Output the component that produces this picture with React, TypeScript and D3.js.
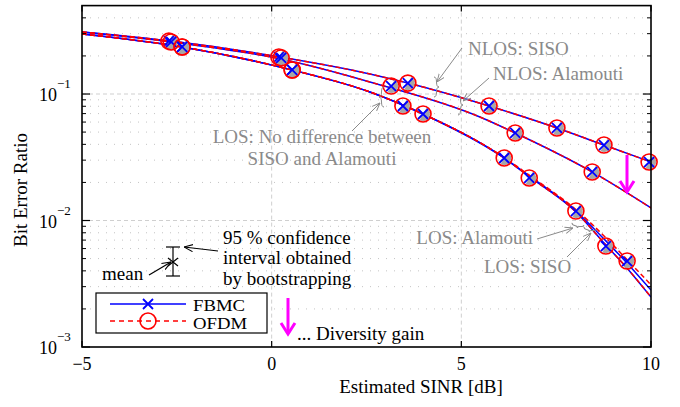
import React from 'react';
import * as d3 from 'd3';

// fitted curves (estimated SINR in dB, bit error ratio)
const nlosSisoLineX = [-5, -2.65, 0.22, 2.59, 3.59, 5.73, 7.52, 8.76, 10];
const nlosSisoLineBer = [0.309, 0.262, 0.196, 0.144, 0.122, 0.0804, 0.0539, 0.0395, 0.029];
const nlosAlaLineX = [-5, -2.65, 0.25, 2.59, 5.49, 6.42, 8.45, 10];
const nlosAlaLineBer = [0.309, 0.258, 0.189, 0.1245, 0.0658, 0.0492, 0.0242, 0.01256];
const losLineX = [-5, -2.36, 0.54, 2.59, 3.99, 6.13, 6.79, 8.02, 8.81, 9.37, 10];
const losSisoLineBer = [0.298, 0.2355, 0.1549, 0.1038, 0.0695, 0.0312, 0.0225, 0.0119, 0.0069, 0.0046, 0.00282];
const losAlaLineBer = [0.298, 0.2355, 0.1549, 0.1038, 0.0695, 0.0312, 0.0222, 0.0117, 0.0064, 0.0042, 0.00248];
const ofdmLosSisoLineBer = [0.298, 0.2355, 0.1549, 0.1038, 0.0695, 0.0315, 0.0228, 0.0122, 0.0073, 0.0049, 0.0031];

// simulated points
const nlosSisoMarkX = [-2.71, 0.19, 3.59, 5.73, 7.52, 8.76, 9.95];
const nlosSisoMarkBer = [0.262, 0.196, 0.122, 0.0804, 0.0539, 0.0395, 0.029];
const nlosAlaMarkX = [-2.65, 0.25, 3.15, 6.42, 8.45];
const nlosAlaMarkBer = [0.258, 0.193, 0.1156, 0.0492, 0.0242];
const losSisoMarkX = [-2.36, 0.54, 3.46, 6.13, 8.02, 9.37];
const losSisoMarkBer = [0.2355, 0.1549, 0.0804, 0.0312, 0.01188, 0.00478];
const losAlaMarkX = [-2.36, 0.54, 3.99, 6.79, 8.81];
const losAlaMarkBer = [0.2355, 0.1549, 0.0695, 0.0217, 0.00628];

const xTicks = [-5, 0, 5, 10];
const yMajor = [1e-3, 1e-2, 1e-1];
const yExp = ['−3', '−2', '−1'];

const W = 680, H = 407;
const left = 82, right = 651, top = 5.6, bottom = 347;
const font = "'Liberation Serif', 'Times New Roman', Times, serif";
const gray = '#8a8a8a';
const fs = 19;

function brace(cx: number, cy: number, L: number, d: number, rot: number) {
	const p = `M${-L / 2},0 Q${-L / 2},${d / 2} ${-L / 4},${d / 2} Q0,${d / 2} 0,${d} Q0,${d / 2} ${L / 4},${d / 2} Q${L / 2},${d / 2} ${L / 2},0`;
	return <path d={p} transform={`translate(${cx},${cy}) rotate(${rot})`} fill="none" stroke={gray} strokeWidth={1} />;
}

export default function App() {
	const x = d3.scaleLinear().domain([-5, 10]).range([left, right]);
	const y = d3.scaleLog().domain([1e-3, 0.5]).range([bottom, top]);

	const line = (xs: number[], bs: number[]) =>
		d3.line<number>().x((d, i) => x(xs[i])).y((d) => y(d)).curve(d3.curveMonotoneX)(bs) || '';

	const minor: number[] = [];
	[1e-3, 1e-2, 1e-1].forEach((dec) => {
		for (let k = 2; k <= 9; k++) {
			const v = dec * k;
			if (v < 0.5) minor.push(v);
		}
	});

	const blueLines = [
		line(nlosSisoLineX, nlosSisoLineBer),
		line(nlosAlaLineX, nlosAlaLineBer),
		line(losLineX, losSisoLineBer),
		line(losLineX, losAlaLineBer),
	];
	const redLines = [
		line(nlosSisoLineX, nlosSisoLineBer),
		line(nlosAlaLineX, nlosAlaLineBer),
		line(losLineX, ofdmLosSisoLineBer),
		line(losLineX, losAlaLineBer),
	];

	const marks: [number, number][] = [];
	[[nlosSisoMarkX, nlosSisoMarkBer], [nlosAlaMarkX, nlosAlaMarkBer], [losSisoMarkX, losSisoMarkBer], [losAlaMarkX, losAlaMarkBer]].forEach(([xs, bs]) => {
		xs.forEach((v, i) => marks.push([x(v), y(bs[i])]));
	});

	const X = (cx: number, cy: number, s: number, key?: any) => (
		<path key={key} d={`M${cx - s},${cy - s}L${cx + s},${cy + s}M${cx - s},${cy + s}L${cx + s},${cy - s}`} stroke="#0000ff" strokeWidth={1.8} fill="none" />
	);

	return (
		<svg width={W} height={H} style={{ position: 'absolute', left: 0, top: 0, background: '#fff', fontFamily: font }}>
			<defs>
				<marker id="ag" viewBox="0 0 10 10" refX="10" refY="5" markerWidth="8" markerHeight="8" orient="auto" markerUnits="userSpaceOnUse">
					<path d="M0,1 L10,5 L0,9" fill="none" stroke={gray} strokeWidth={1.2} />
				</marker>
				<marker id="ak" viewBox="0 0 10 10" refX="10" refY="5" markerWidth="9" markerHeight="9" orient="auto" markerUnits="userSpaceOnUse">
					<path d="M0,1 L10,5 L0,9" fill="none" stroke="#000" strokeWidth={1.2} />
				</marker>
				<clipPath id="plot"><rect x={left} y={top} width={right - left} height={bottom - top} /></clipPath>
			</defs>

			{/* grid */}
			{minor.map((v) => (
				<line key={'mg' + v} x1={left} x2={right} y1={y(v)} y2={y(v)} stroke="#c4c4c4" strokeWidth={1} strokeDasharray="1,7" />
			))}
			{[1e-2, 1e-1].map((v) => (
				<line key={'g' + v} x1={left} x2={right} y1={y(v)} y2={y(v)} stroke="#cfcfcf" strokeWidth={1} strokeDasharray="4,3" />
			))}
			{[0, 5].map((v) => (
				<line key={'gx' + v} x1={x(v)} x2={x(v)} y1={top} y2={bottom} stroke="#cfcfcf" strokeWidth={1} strokeDasharray="4,3" />
			))}

			{/* curves */}
			<g clipPath="url(#plot)">
				{blueLines.map((d, i) => <path key={'b' + i} d={d} fill="none" stroke="#0000ff" strokeWidth={1.5} />)}
				{redLines.map((d, i) => <path key={'r' + i} d={d} fill="none" stroke="#ff0000" strokeWidth={1.5} strokeDasharray="5,3" />)}
			</g>

			{/* markers */}
			{marks.map(([cx, cy], i) => (
				<g key={'m' + i}>
					<path d="M0,-7 A7,7 0 0,1 0,7 Z" transform={`translate(${cx},${cy}) rotate(30)`} fill="#a6a6a6" />
					<circle cx={cx} cy={cy} r={8} fill="none" stroke="#ff0000" strokeWidth={1.6} />
					{X(cx, cy, 5)}
				</g>
			))}

			{/* gray annotations */}
			<g fill={gray} fontSize={fs}>
				<text x={468} y={55}>NLOS: SISO</text>
				<text x={493} y={80}>NLOS: Alamouti</text>
				<text x={322} y={143} textAnchor="middle">LOS: No difference between</text>
				<text x={322} y={165} textAnchor="middle">SISO and Alamouti</text>
				<text x={533} y={244} textAnchor="end">LOS: Alamouti</text>
				<text x={484} y={273}>LOS: SISO</text>
			</g>
			<g stroke={gray} strokeWidth={1} fill="none">
				<line x1={462} y1={48} x2={437} y2={82} markerEnd="url(#ag)" />
				<line x1={489} y1={78} x2={463} y2={101} markerEnd="url(#ag)" />
				<line x1={352} y1={131} x2={380} y2={103} markerEnd="url(#ag)" />
				<line x1={537} y1={239} x2={573} y2={228} markerEnd="url(#ag)" />
				<line x1={567} y1={257} x2={591} y2={233} markerEnd="url(#ag)" />
			</g>
			{brace(434, 87, 20, 5, -90)}
			{brace(458, 105, 20, 5, -90)}
			{brace(384, 97, 20, 5, 90)}
			{brace(578, 224, 12, 4, 10)}
			{brace(590, 228, 12, 4, 10)}

			{/* confidence interval explanation */}
			<g fill="#000" fontSize={fs}>
				<text x={223} y={244}>95 % confidence</text>
				<text x={223} y={264}>interval obtained</text>
				<text x={223} y={285}>by bootstrapping</text>
				<text x={102} y={280}>mean</text>
				<text x={297} y={340}>... Diversity gain</text>
			</g>
			<g stroke="#000" strokeWidth={1.2} fill="none">
				<line x1={173} y1={247} x2={173} y2={276} />
				<line x1={166} y1={247} x2={180} y2={247} />
				<line x1={166} y1={276} x2={180} y2={276} />
				<path d="M168,258L178,266M168,266L178,258" />
				<line x1={218} y1={251} x2={184} y2={247} markerEnd="url(#ak)" />
				<line x1={149} y1={275} x2={171} y2={262} markerEnd="url(#ak)" />
			</g>

			{/* diversity gain arrows */}
			<g stroke="#ff00ff" strokeWidth={3} fill="none">
				<line x1={627} y1={155} x2={627} y2={191} />
				<path d="M620,181L627,192L634,181" />
				<line x1={288} y1={298} x2={288} y2={333} />
				<path d="M281,323L288,334L295,323" />
			</g>

			{/* axes box and ticks */}
			<rect x={left} y={top} width={right - left} height={bottom - top} fill="none" stroke="#000" strokeWidth={1.6} />
			{yMajor.map((v) => (
				<g key={'yt' + v} stroke="#000" strokeWidth={1.2}>
					<line x1={left} x2={left + 8} y1={y(v)} y2={y(v)} />
					<line x1={right} x2={right - 8} y1={y(v)} y2={y(v)} />
				</g>
			))}
			{minor.map((v) => (
				<g key={'ym' + v} stroke="#000" strokeWidth={1}>
					<line x1={left} x2={left + 4} y1={y(v)} y2={y(v)} />
					<line x1={right} x2={right - 4} y1={y(v)} y2={y(v)} />
				</g>
			))}
			{xTicks.map((v) => (
				<g key={'xt' + v} stroke="#000" strokeWidth={1.2}>
					<line x1={x(v)} x2={x(v)} y1={bottom} y2={bottom - 6} />
					<line x1={x(v)} x2={x(v)} y1={top} y2={top + 6} />
				</g>
			))}

			{/* tick labels */}
			<g fontSize={18} fill="#000">
				{xTicks.map((v) => (
					<text key={'xl' + v} x={x(v)} y={370} textAnchor="middle">{v < 0 ? '−' + Math.abs(v) : v}</text>
				))}
				{yMajor.map((v, i) => (
					<text key={'yl' + v} x={39} y={y(v) + 7}>
						10<tspan fontSize={13} dy={-13}>{yExp[i]}</tspan>
					</text>
				))}
			</g>
			<g fontSize={fs} fill="#000">
				<text x={421} y={393} textAnchor="middle">Estimated SINR [dB]</text>
				<text transform="translate(27,190) rotate(-90)" textAnchor="middle">Bit Error Ratio</text>
			</g>

			{/* legend */}
			<rect x={96} y={293} width={171} height={40} fill="#fff" stroke="#000" strokeWidth={1.2} />
			<line x1={110} x2={186} y1={304} y2={304} stroke="#0000ff" strokeWidth={1.3} />
			{X(148, 304, 5)}
			<line x1={110} x2={186} y1={321} y2={321} stroke="#ff0000" strokeWidth={1.3} strokeDasharray="5,4" />
			<circle cx={148} cy={321} r={8} fill="none" stroke="#ff0000" strokeWidth={1.6} />
			<text x={193} y={310.5} fontSize={17} textLength={52} lengthAdjust="spacingAndGlyphs">FBMC</text>
			<text x={193} y={329} fontSize={17} textLength={54} lengthAdjust="spacingAndGlyphs">OFDM</text>
		</svg>
	);
}
